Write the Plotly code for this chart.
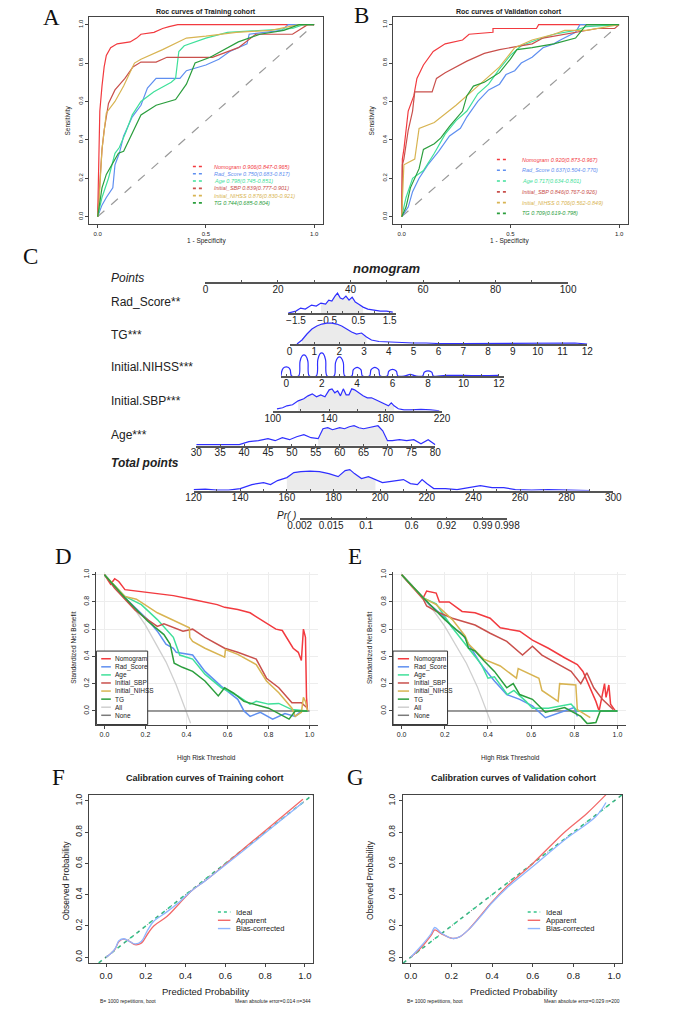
import plotly.graph_objects as go

W, H = 685, 1013
SANS = "Liberation Sans, Arial, sans-serif"
SERIF = "Liberation Serif, Times New Roman, serif"
INK = "#222222"

MODELS = ["Nomogram", "Rad_Score", "Age", "Initial_SBP", "Initial_NIHSS", "TG"]
MODEL_COLORS = ["#f23a3f", "#5f8ff0", "#3fe09a", "#c9504c", "#d8b452", "#2b9e3d"]

# ---------------- ROC, training cohort (A)
TRAIN_AUC = [0.906, 0.750, 0.798, 0.839, 0.876, 0.744]
TRAIN_LO = [0.847, 0.683, 0.745, 0.777, 0.830, 0.685]
TRAIN_HI = [0.965, 0.817, 0.851, 0.901, 0.921, 0.804]

TR_NOMO_FPR = [0, 0.005, 0.01, 0.02, 0.03, 0.04, 0.06, 0.09, 0.15, 0.18, 0.2, 0.26, 0.3, 0.33, 0.37, 1.0]
TR_NOMO_TPR = [0, 0.3, 0.55, 0.68, 0.78, 0.84, 0.88, 0.9, 0.91, 0.93, 0.95, 0.96, 0.98, 0.99, 1.0, 1.0]
TR_RAD_FPR = [0, 0.02, 0.04, 0.07, 0.08, 0.1, 0.12, 0.16, 0.2, 0.23, 0.27, 0.38, 0.41, 0.5, 0.56, 0.61, 0.69, 0.7, 0.85, 0.88, 1.0]
TR_RAD_TPR = [0, 0.06, 0.1, 0.15, 0.27, 0.33, 0.42, 0.52, 0.58, 0.67, 0.72, 0.72, 0.76, 0.79, 0.82, 0.86, 0.9, 0.95, 0.97, 1.0, 1.0]
TR_AGE_FPR = [0, 0.02, 0.05, 0.08, 0.1, 0.13, 0.16, 0.2, 0.26, 0.34, 0.36, 0.375, 0.4, 0.5, 0.6, 0.75, 0.9, 0.95, 1.0]
TR_AGE_TPR = [0, 0.1, 0.2, 0.33, 0.36, 0.44, 0.53, 0.6, 0.65, 0.7, 0.72, 0.86, 0.89, 0.93, 0.96, 0.97, 0.98, 1.0, 1.0]
TR_SBP_FPR = [0, 0.01, 0.02, 0.03, 0.05, 0.08, 0.126, 0.163, 0.2, 0.27, 0.32, 0.53, 0.6, 0.65, 0.73, 0.9, 0.97, 1.0]
TR_SBP_TPR = [0, 0.2, 0.35, 0.45, 0.59, 0.66, 0.72, 0.78, 0.805, 0.805, 0.83, 0.83, 0.86, 0.88, 0.95, 0.95, 1.0, 1.0]
TR_NIHSS_FPR = [0, 0.005, 0.02, 0.04, 0.08, 0.12, 0.17, 0.2, 0.3, 0.41, 0.5, 0.64, 0.8, 0.93, 1.0]
TR_NIHSS_TPR = [0, 0.05, 0.35, 0.54, 0.6, 0.68, 0.8, 0.82, 0.87, 0.93, 0.94, 0.96, 0.97, 1.0, 1.0]
TR_TG_FPR = [0, 0.02, 0.04, 0.07, 0.096, 0.12, 0.155, 0.2, 0.27, 0.36, 0.41, 0.45, 0.52, 0.585, 0.65, 0.75, 0.86, 0.93, 1.0]
TR_TG_TPR = [0, 0.15, 0.22, 0.28, 0.33, 0.34, 0.42, 0.53, 0.58, 0.61, 0.69, 0.8, 0.83, 0.87, 0.91, 0.95, 0.97, 1.0, 1.0]

# ---------------- ROC, validation cohort (B)
VALID_AUC = [0.920, 0.637, 0.717, 0.846, 0.706, 0.709]
VALID_LO = [0.873, 0.504, 0.634, 0.767, 0.562, 0.619]
VALID_HI = [0.967, 0.770, 0.801, 0.926, 0.849, 0.798]

VA_NOMO_FPR = [0, 0.003, 0.01, 0.02, 0.03, 0.056, 0.07, 0.1, 0.145, 0.2, 0.28, 0.31, 0.42, 0.42, 0.62, 0.63, 1.0]
VA_NOMO_TPR = [0, 0.3, 0.35, 0.45, 0.55, 0.63, 0.72, 0.79, 0.86, 0.9, 0.92, 0.95, 0.96, 0.98, 0.98, 1.0, 1.0]
VA_RAD_FPR = [0, 0.03, 0.05, 0.08, 0.12, 0.17, 0.22, 0.27, 0.3, 0.35, 0.4, 0.45, 0.48, 0.52, 0.55, 0.6, 0.65, 0.7, 0.73, 0.8, 0.82, 1.0]
VA_RAD_TPR = [0, 0.05, 0.13, 0.2, 0.27, 0.34, 0.42, 0.46, 0.52, 0.6, 0.66, 0.69, 0.74, 0.76, 0.8, 0.83, 0.88, 0.9, 0.92, 0.96, 1.0, 1.0]
VA_AGE_FPR = [0, 0.02, 0.05, 0.1, 0.15, 0.2, 0.25, 0.3, 0.35, 0.4, 0.45, 0.5, 0.55, 0.62, 0.7, 0.8, 0.85, 1.0]
VA_AGE_TPR = [0, 0.1, 0.2, 0.24, 0.33, 0.43, 0.5, 0.55, 0.64, 0.69, 0.77, 0.84, 0.89, 0.92, 0.95, 0.97, 0.99, 1.0]
VA_SBP_FPR = [0, 0.003, 0.01, 0.03, 0.05, 0.06, 0.14, 0.16, 0.2, 0.25, 0.3, 0.38, 0.45, 0.5, 0.55, 0.6, 0.65, 0.8, 0.9, 0.98, 1.0]
VA_SBP_TPR = [0, 0.27, 0.3, 0.45, 0.55, 0.65, 0.65, 0.72, 0.75, 0.78, 0.81, 0.85, 0.87, 0.88, 0.89, 0.9, 0.93, 0.96, 0.98, 0.98, 1.0]
VA_NIHSS_FPR = [0, 0.01, 0.06, 0.08, 0.15, 0.25, 0.35, 0.45, 0.52, 0.6, 0.7, 0.75, 0.85, 1.0]
VA_NIHSS_TPR = [0, 0.27, 0.3, 0.46, 0.49, 0.58, 0.68, 0.78, 0.88, 0.92, 0.95, 0.97, 0.97, 1.0]
VA_TG_FPR = [0, 0.02, 0.04, 0.08, 0.1, 0.15, 0.18, 0.22, 0.28, 0.3, 0.33, 0.38, 0.45, 0.5, 0.53, 0.6, 0.7, 0.8, 0.85, 1.0]
VA_TG_TPR = [0, 0.05, 0.15, 0.25, 0.35, 0.38, 0.41, 0.47, 0.55, 0.63, 0.68, 0.7, 0.75, 0.82, 0.87, 0.88, 0.9, 0.93, 1.0, 1.0]

# ---------------- nomogram (C): scales and densities
POINTS_TICKS = [0, 10, 20, 30, 40, 50, 60, 70, 80, 90, 100]
RAD_TICKS = [-1.5, -1, -0.5, 0, 0.5, 1, 1.5]
TG_TICKS = [0, 1, 2, 3, 4, 5, 6, 7, 8, 9, 10, 11, 12]
NIHSS_TICKS = [0, 1, 2, 3, 4, 5, 6, 7, 8, 9, 10, 11, 12]
SBP_TICKS = [100, 120, 140, 160, 180, 200, 220]
AGE_TICKS = [30, 35, 40, 45, 50, 55, 60, 65, 70, 75, 80]
TOTAL_TICKS = [120, 130, 140, 150, 160, 170, 180, 190, 200, 210, 220, 230, 240, 250, 260, 270, 280, 290, 300]
PR_LABELS = ["0.002", "0.015", "0.1", "0.6", "0.92", "0.99", "0.998"]
PR_POINTS = [165.5, 179, 194, 213.5, 228.5, 244, 254.5]

RAD_X = [-1.75, -1.5, -1.35, -1.2, -1.0, -0.85, -0.7, -0.55, -0.45, -0.35, -0.25, -0.17, -0.08, 0.0, 0.1, 0.2, 0.3, 0.4, 0.5, 0.65, 0.8, 1.0, 1.2, 1.4, 1.6]
RAD_D = [0, 2, 5, 4, 8, 7, 10, 9, 13, 12, 17, 20, 15, 14, 17, 13, 16, 11, 9, 6, 4, 3, 2, 2, 1]
TG_X = [0.3, 0.5, 0.7, 0.9, 1.1, 1.3, 1.5, 1.7, 1.9, 2.1, 2.3, 2.5, 2.7, 2.9, 3.1, 3.3, 3.6, 4.0, 4.5, 5.0, 5.5, 6.0, 7.0, 8.0, 9.0, 10.0, 11.0, 11.5, 12.0]
TG_D = [0, 4, 10, 15, 18, 20, 21, 21, 20, 18, 15, 12, 10, 11, 7, 4, 2.5, 2, 1.5, 1, 1, 0.5, 0.5, 0.5, 0.3, 0.5, 0.3, 1, 0]
NIHSS_X = [-0.3, -0.22, -0.1, 0, 0.1, 0.22, 0.3,
           0.7, 0.78, 0.9, 1, 1.1, 1.22, 1.3,
           1.7, 1.78, 1.9, 2, 2.1, 2.22, 2.3,
           2.7, 2.78, 2.9, 3, 3.1, 3.22, 3.3,
           3.7, 3.78, 3.9, 4, 4.1, 4.22, 4.3,
           4.7, 4.78, 4.9, 5, 5.1, 5.22, 5.3,
           5.7, 5.78, 5.9, 6, 6.1, 6.22, 6.3,
           6.7, 7, 7.3,
           7.7, 7.78, 7.9, 8, 8.1, 8.22, 8.3,
           9, 10, 11, 12]
NIHSS_D = [0, 6.3, 8.6, 9, 8.6, 6.3, 0,
           0, 14.7, 20, 21, 20, 14.7, 0,
           0, 16, 22, 23, 22, 16, 0,
           0, 13.3, 18, 19, 18, 13.3, 0,
           0, 6, 8, 8.5, 8, 6, 0,
           0, 6, 8, 8.5, 8, 6, 0,
           0, 4.5, 6.2, 6.5, 6.2, 4.5, 0,
           0, 1.5, 0,
           0, 3.5, 4.8, 5, 4.8, 3.5, 0,
           0.5, 0.5, 0.3, 0.5]
SBP_X = [103, 107, 110, 114, 118, 122, 125, 128, 131, 134, 137, 140, 142, 144, 146, 148, 150, 152, 154,
         156, 158, 161, 164, 167, 170, 173, 176, 179, 182, 184, 186, 189, 193, 198, 205, 212, 218]
SBP_D = [2, 3, 5, 6, 10, 12, 15, 17, 14, 16, 14, 21, 22, 18, 20, 15, 22, 16, 16,
         22, 21, 18, 15, 13, 13, 11, 9, 7, 5, 8, 5, 2, 1, 1, 1.5, 1, 0]
AGE_X = [30, 33, 36, 39, 41, 43, 45, 46.5, 48, 49.5, 51, 52.5, 54, 55.5, 56.5, 57.5, 58.5, 60, 61,
         62, 63, 64, 65, 66, 67, 68, 69, 70, 71, 72.5, 74, 75.5, 77, 78.5, 80]
AGE_D = [1, 1, 0.5, 1, 4, 5, 7, 5, 8, 6, 9, 11, 8, 7, 17, 18, 16, 18, 17,
         19, 20, 18, 17, 18, 19, 20, 15, 5, 5, 6, 5, 6, 2, 6, 1]
TOTAL_X = [120, 125, 130, 135, 140, 145, 150, 153, 156, 160, 163, 166, 170, 174, 178, 182, 185, 187, 189, 192, 195,
           198, 201, 204, 207, 210, 213, 216, 218, 220, 223, 228, 233, 238, 243, 248, 253, 258, 265, 272, 280, 290]
TOTAL_D = [1, 1.5, 0.5, 0.5, 2, 6, 8, 6, 10, 13, 18, 19, 19.5, 19, 17, 14, 20, 21, 17, 12, 14,
           11, 8, 9, 10, 11, 7, 6, 11, 7, 2, 2, 1, 3, 5, 3, 3, 1, 0.5, 1, 0.5, 0]

# ---------------- decision curves (D training, E validation)
D_ALL_X = [0, 0.05, 0.1, 0.15, 0.2, 0.25, 0.3, 0.35, 0.4, 0.42]
D_ALL_Y = [1, 0.92, 0.83, 0.74, 0.63, 0.5, 0.36, 0.19, 0.0, -0.09]
D_NONE_X = [0, 1]
D_NONE_Y = [0, 0]
D_NOMO_X = [0, 0.03, 0.05, 0.07, 0.1, 0.15, 0.195, 0.25, 0.336, 0.43, 0.49, 0.55, 0.586, 0.65, 0.71,
            0.77, 0.836, 0.867, 0.9, 0.92, 0.945, 0.96, 0.97, 0.98, 0.985, 0.99]
D_NOMO_Y = [1.0, 0.93, 0.97, 0.95, 0.89, 0.88, 0.87, 0.86, 0.846, 0.817, 0.8, 0.78, 0.76, 0.744, 0.72,
            0.66, 0.6, 0.59, 0.51, 0.46, 0.43, 0.37, 0.6, 0.54, 0.1, 0.0]
D_RAD_X = [0, 0.1, 0.21, 0.258, 0.3, 0.336, 0.35, 0.43, 0.49, 0.57, 0.65, 0.68, 0.71, 0.76, 0.82, 0.88, 0.93, 0.96]
D_RAD_Y = [1.0, 0.83, 0.67, 0.585, 0.49, 0.46, 0.43, 0.41, 0.29, 0.18, 0.085, 0.0, -0.04, -0.01, -0.06, -0.02, -0.04, 0.0]
D_AGE_X = [0, 0.1, 0.18, 0.258, 0.336, 0.367, 0.43, 0.49, 0.57, 0.65, 0.71, 0.74, 0.8, 0.85, 0.914, 0.99]
D_AGE_Y = [1.0, 0.84, 0.78, 0.67, 0.54, 0.41, 0.38, 0.27, 0.17, 0.11, 0.05, 0.07, 0.05, 0.055, 0.01, 0.0]
D_SBP_X = [0, 0.05, 0.1, 0.15, 0.21, 0.258, 0.29, 0.383, 0.43, 0.49, 0.586, 0.65, 0.74, 0.79, 0.85, 0.914, 0.96, 0.99]
D_SBP_Y = [1.0, 0.9, 0.82, 0.74, 0.67, 0.62, 0.64, 0.585, 0.6, 0.54, 0.46, 0.43, 0.38, 0.24, 0.17, 0.06, 0.06, 0.02]
D_NIHSS_X = [0, 0.1, 0.156, 0.258, 0.414, 0.416, 0.43, 0.49, 0.586, 0.59, 0.65, 0.74, 0.79, 0.85, 0.914,
             0.93, 0.96, 0.97, 0.98, 0.99]
D_NIHSS_Y = [1.0, 0.84, 0.82, 0.72, 0.61, 0.54, 0.51, 0.46, 0.395, 0.45, 0.415, 0.34, 0.22, 0.134, 0.02,
             -0.04, -0.01, 0.1, 0.07, 0.0]
D_TG_X = [0, 0.1, 0.21, 0.29, 0.32, 0.34, 0.38, 0.43, 0.49, 0.52, 0.555, 0.586, 0.63, 0.68, 0.8, 0.9, 0.93, 0.99]
D_TG_Y = [1.0, 0.83, 0.66, 0.56, 0.49, 0.35, 0.32, 0.29, 0.22, 0.17, 0.11, 0.17, 0.13, 0.07, 0.02, -0.06, 0.0, 0.0]

E_ALL_X = [0, 0.05, 0.1, 0.15, 0.2, 0.25, 0.3, 0.35, 0.4, 0.415]
E_ALL_Y = [1, 0.92, 0.83, 0.73, 0.62, 0.49, 0.35, 0.18, -0.03, -0.09]
E_NONE_X = [0, 1]
E_NONE_Y = [0, 0]
E_NOMO_X = [0, 0.05, 0.1, 0.116, 0.16, 0.175, 0.22, 0.28, 0.34, 0.41, 0.457, 0.547, 0.606, 0.68, 0.755,
            0.814, 0.84, 0.874, 0.9, 0.915, 0.94, 0.947, 0.96, 0.968, 0.99]
E_NOMO_Y = [1.0, 0.91, 0.83, 0.88, 0.865, 0.8, 0.8, 0.73, 0.72, 0.68, 0.61, 0.585, 0.52, 0.46, 0.39,
            0.34, 0.29, 0.17, 0.07, 0.0, 0.2, 0.1, 0.19, 0.05, 0.0]
E_RAD_X = [0, 0.13, 0.19, 0.235, 0.28, 0.324, 0.368, 0.43, 0.487, 0.547, 0.606, 0.666, 0.755, 0.8, 0.814]
E_RAD_Y = [1.0, 0.78, 0.7, 0.61, 0.57, 0.46, 0.34, 0.22, 0.12, 0.085, 0.037, -0.05, 0.0, 0.025, -0.04]
E_AGE_X = [0, 0.1, 0.16, 0.235, 0.31, 0.37, 0.4, 0.43, 0.49, 0.52, 0.576, 0.606, 0.68, 0.755, 0.785, 0.814, 1.0]
E_AGE_Y = [1.0, 0.83, 0.785, 0.61, 0.46, 0.34, 0.24, 0.25, 0.12, 0.15, 0.07, 0.02, 0.02, 0.04, 0.05, 0.0, 0.0]
E_SBP_X = [0, 0.1, 0.116, 0.16, 0.235, 0.34, 0.41, 0.487, 0.56, 0.606, 0.65, 0.725, 0.785, 0.83, 0.858, 0.89, 0.93, 0.98]
E_SBP_Y = [1.0, 0.82, 0.77, 0.73, 0.68, 0.63, 0.57, 0.51, 0.41, 0.475, 0.41, 0.34, 0.29, 0.2, 0.28, 0.17, 0.085, 0.01]
E_NIHSS_X = [0, 0.1, 0.16, 0.235, 0.294, 0.31, 0.38, 0.457, 0.532, 0.54, 0.636, 0.65, 0.725, 0.732, 0.807, 0.814, 0.874]
E_NIHSS_Y = [1.0, 0.83, 0.78, 0.67, 0.55, 0.49, 0.38, 0.33, 0.24, 0.31, 0.24, 0.15, 0.07, 0.2, 0.19, 0.01, -0.05]
E_TG_X = [0, 0.1, 0.2, 0.294, 0.31, 0.34, 0.38, 0.43, 0.487, 0.517, 0.547, 0.606, 0.666, 0.755, 0.83, 0.86, 0.9, 0.92, 1.0]
E_TG_Y = [1.0, 0.83, 0.67, 0.54, 0.46, 0.44, 0.37, 0.29, 0.17, 0.2, 0.12, 0.085, -0.01, 0.025, -0.04, -0.093, -0.085, 0.0, 0.0]

# ---------------- calibration (F training, G validation)
IDEAL_X = [-0.1, 1.1]
IDEAL_Y = [-0.1, 1.1]
F_APP_X = [0, 0.03, 0.048, 0.065, 0.09, 0.12, 0.145, 0.177, 0.21, 0.24, 0.306, 0.37, 0.435, 0.5, 0.66, 0.82, 0.99]
F_APP_Y = [0, 0.03, 0.057, 0.1, 0.115, 0.1, 0.08, 0.09, 0.15, 0.2, 0.26, 0.345, 0.43, 0.49, 0.66, 0.83, 1.01]
F_BC_X = [0, 0.03, 0.048, 0.065, 0.09, 0.12, 0.145, 0.177, 0.21, 0.24, 0.306, 0.37, 0.435, 0.5, 0.66, 0.82, 0.99]
F_BC_Y = [0, 0.03, 0.06, 0.105, 0.118, 0.1, 0.085, 0.1, 0.175, 0.23, 0.29, 0.355, 0.43, 0.49, 0.65, 0.815, 0.99]
G_APP_X = [0, 0.05, 0.1, 0.118, 0.15, 0.205, 0.24, 0.283, 0.346, 0.394, 0.47, 0.6, 0.756, 0.866, 0.96]
G_APP_Y = [0, 0.06, 0.14, 0.175, 0.15, 0.12, 0.13, 0.175, 0.27, 0.345, 0.45, 0.6, 0.8, 0.92, 1.04]
G_BC_X = [0, 0.05, 0.1, 0.118, 0.15, 0.205, 0.24, 0.283, 0.346, 0.394, 0.47, 0.6, 0.756, 0.91, 0.96]
G_BC_Y = [0, 0.07, 0.15, 0.19, 0.155, 0.12, 0.13, 0.175, 0.265, 0.34, 0.44, 0.58, 0.75, 0.9, 0.99]


fig = go.Figure()
annotations = []
shapes = []
n_axes = [0]


def fx(px):
    return px / W


def fy(py):
    return 1 - py / H


def text(x, y, s, size, color=INK, anchor="center", angle=0, family=SANS, valign="middle"):
    annotations.append(dict(
        x=fx(x), y=fy(y), xref="paper", yref="paper", text=s, showarrow=False,
        font=dict(size=size, color=color, family=family),
        xanchor=anchor, yanchor=valign, textangle=angle,
    ))


def seg(x0, y0, x1, y1, color, width=1.2, dash="solid"):
    shapes.append(dict(type="line", xref="paper", yref="paper",
                       x0=fx(x0), y0=fy(y0), x1=fx(x1), y1=fy(y1),
                       line=dict(color=color, width=width, dash=dash), layer="above"))


def panel(xpx, ypx, xrange, yrange, xaxis=None, yaxis=None):
    """New x/y axis pair placed by pixel box (left, right), (top, bottom)."""
    n_axes[0] += 1
    s = "" if n_axes[0] == 1 else str(n_axes[0])
    base = dict(showgrid=False, zeroline=False, ticks="outside", ticklen=3,
                tickcolor="#444", linecolor="#444", tickfont=dict(size=7, family=SANS, color=INK))
    xa = dict(base, domain=[fx(xpx[0]), fx(xpx[1])], range=xrange, anchor="y" + s)
    ya = dict(base, domain=[fy(ypx[1]), fy(ypx[0])], range=yrange, anchor="x" + s)
    xa.update(xaxis or {})
    ya.update(yaxis or {})
    fig.update_layout({"xaxis" + s: xa, "yaxis" + s: ya})
    fig.add_trace(go.Scatter(x=[], y=[], xaxis="x" + s, yaxis="y" + s,
                             showlegend=False, hoverinfo="skip"))
    return "x" + s, "y" + s


def curve(ax, x, y, color, width=1.2, dash="solid", shape="linear"):
    fig.add_trace(go.Scatter(
        x=x, y=y, mode="lines", xaxis=ax[0], yaxis=ax[1], showlegend=False, hoverinfo="skip",
        line=dict(color=color, width=width, dash=dash, shape=shape),
    ))


def fmt(v):
    return f"{v:.1f}"


# ======================= A / B : ROC curves
ROC_TICK_X = [0, 0.5, 1.0]
ROC_TICK_Y = [0, 0.2, 0.4, 0.6, 0.8, 1.0]


def roc_panel(xpx, title, cx, ylab_x, curves, aucs, los, his, leg_dash, leg_text, leg_y0, leg_step):
    ax = panel(xpx, (14, 222), [-0.04, 1.04], [-0.04, 1.04],
               xaxis=dict(showline=True, mirror=True, tickvals=ROC_TICK_X,
                          ticktext=[fmt(v) for v in ROC_TICK_X], tickfont=dict(size=6, family=SANS)),
               yaxis=dict(showline=True, mirror=True, tickvals=ROC_TICK_Y, tickangle=-90,
                          ticktext=[fmt(v) for v in ROC_TICK_Y], tickfont=dict(size=6, family=SANS)))
    curve(ax, [0, 1], [0, 1], "#9a9a9a", width=1.2, dash="dash")
    for (fpr, tpr), col in zip(curves, MODEL_COLORS):
        curve(ax, fpr, tpr, col, width=1.2)
    text(cx, 9, f"<b>{title}</b>", 7)
    text(cx, 239, "1 - Specificity", 6.5)
    text(ylab_x, 118, "Sensitivity", 6.5, angle=-90)
    for i, (name, col) in enumerate(zip(MODELS, MODEL_COLORS)):
        yy = leg_y0 + i * leg_step
        seg(leg_dash[0], yy, leg_dash[1], yy, col, width=1.6, dash="3px,3px")
        label = f"<i>{name} {aucs[i]:.3f}({los[i]:.3f}-{his[i]:.3f})</i>"
        text(leg_text, yy, label, 5.5, color=col, anchor="left")


roc_panel((79, 322), "Roc curves of Training cohort", 201, 57,
          [(TR_NOMO_FPR, TR_NOMO_TPR), (TR_RAD_FPR, TR_RAD_TPR), (TR_AGE_FPR, TR_AGE_TPR),
           (TR_SBP_FPR, TR_SBP_TPR), (TR_NIHSS_FPR, TR_NIHSS_TPR), (TR_TG_FPR, TR_TG_TPR)],
          TRAIN_AUC, TRAIN_LO, TRAIN_HI, (187, 199), 207, 164, 7.3)
roc_panel((395, 639), "Roc curves of Validation cohort", 516, 373,
          [(VA_NOMO_FPR, VA_NOMO_TPR), (VA_RAD_FPR, VA_RAD_TPR), (VA_AGE_FPR, VA_AGE_TPR),
           (VA_SBP_FPR, VA_SBP_TPR), (VA_NIHSS_FPR, VA_NIHSS_TPR), (VA_TG_FPR, VA_TG_TPR)],
          VALID_AUC, VALID_LO, VALID_HI, (503, 514), 527, 157, 10.8)

# ======================= C : nomogram
BLUE = "#2f2fff"
SHADE = "#ebebeb"
ROW_H = 25
NOMO_AXIS = dict(showline=True, linecolor="#555", linewidth=1.5, ticks="inside", ticklen=2,
                 tickcolor="#555", tickangle=0, ticklabelstandoff=-3,
                 tickfont=dict(size=10, family=SANS, color=INK))


def nomo_row(label, label_y, axis_y, xrange, xpx, ticks, labels, dens=None, shade=None,
             spline=False, label_style=None):
    ax = panel(xpx, (axis_y - ROW_H, axis_y), xrange, [0, ROW_H],
               xaxis=dict(NOMO_AXIS, tickvals=ticks, ticktext=labels),
               yaxis=dict(visible=False))
    if dens is not None:
        dx, dy = dens
        shape = "spline" if spline else "linear"
        if shade is not None:
            sx = [x for x in dx if shade[0] <= x <= shade[1]]
            sy = [y for x, y in zip(dx, dy) if shade[0] <= x <= shade[1]]
            fig.add_trace(go.Scatter(x=sx, y=sy, mode="lines", fill="tozeroy", fillcolor=SHADE,
                                     line=dict(width=0, color=SHADE, shape=shape),
                                     xaxis=ax[0], yaxis=ax[1], showlegend=False, hoverinfo="skip"))
        curve(ax, dx, dy, BLUE, width=1.2, shape=shape)
    text(100, label_y, label_style or label, 12, anchor="left")
    return ax


def every(ticks, step):
    return [("%g" % t).replace("-", "\u2212") if i % step == 0 else "" for i, t in enumerate(ticks)]


text(18, 254, "C", 23, color="#111", family=SERIF)
text(389, 266, "<b><i>nomogram</i></b>", 13)
nomo_row("Points", 276, 280, [0, 100], (200, 577), POINTS_TICKS, every(POINTS_TICKS, 2),
         label_style="<i>Points</i>")
nomo_row("Rad_Score**", 300, 311, [-1.75, 1.7], (286, 398), RAD_TICKS, every(RAD_TICKS, 2),
         dens=(RAD_X, RAD_D), shade=(-0.8, 0.7))
nomo_row("TG***", 333, 342, [0, 12], (287.5, 597), TG_TICKS, every(TG_TICKS, 1),
         dens=(TG_X, TG_D), shade=(0.45, 3.1))
nomo_row("Initial.NIHSS***", 365, 374, [-0.3, 12.3], (278.5, 510.6), NIHSS_TICKS, every(NIHSS_TICKS, 2),
         dens=(NIHSS_X, NIHSS_D), spline=True)
nomo_row("Initial.SBP***", 399, 409, [100, 220], (270, 446), SBP_TICKS, every(SBP_TICKS, 2),
         dens=(SBP_X, SBP_D), shade=(115, 187))
nomo_row("Age***", 433, 444, [30, 80], (190.5, 439), AGE_TICKS, every(AGE_TICKS, 1),
         dens=(AGE_X, AGE_D), shade=(55.4, 70))
nomo_row("Total points", 461, 489, [120, 300], (187.7, 624), TOTAL_TICKS, every(TOTAL_TICKS, 2),
         dens=(TOTAL_X, TOTAL_D), shade=(158, 200), label_style="<b><i>Total points</i></b>")


def total_px(t):
    return 187.7 + (t - 120) * (624 - 187.7) / 180


panel((total_px(PR_POINTS[0]), total_px(PR_POINTS[-1])), (516, 517), [PR_POINTS[0], PR_POINTS[-1]], [0, 1],
      xaxis=dict(NOMO_AXIS, tickvals=PR_POINTS, ticktext=PR_LABELS),
      yaxis=dict(visible=False))
text(296, 514, "<i>Pr( )</i>", 10, anchor="right")

# ======================= D / E : decision curves
DCA_TICKS = [0, 0.2, 0.4, 0.6, 0.8, 1.0]
DCA_NAMES = MODELS + ["All", "None"]
DCA_COLORS = MODEL_COLORS + ["#cfcfcf", "#7a7a7a"]


def dca_panel(xpx, letter, letter_x, cx, ylab_x, series, box, line_x, text_x):
    ax = panel(xpx, (570.6, 723.7), [-0.04, 1.04], [-0.1, 1.02],
               xaxis=dict(showline=True, showgrid=True, gridcolor="#ededed", tickvals=DCA_TICKS,
                          ticktext=[fmt(v) for v in DCA_TICKS], tickfont=dict(size=7, family=SANS)),
               yaxis=dict(showline=True, showgrid=True, gridcolor="#ededed", tickvals=DCA_TICKS,
                          ticktext=[fmt(v) for v in DCA_TICKS], tickangle=-90,
                          tickfont=dict(size=7, family=SANS)))
    (all_x, all_y), (none_x, none_y) = series[-2], series[-1]
    curve(ax, all_x, all_y, DCA_COLORS[6], width=1.3)
    curve(ax, none_x, none_y, DCA_COLORS[7], width=1.6)
    for (x, y), col in zip(series[:6], MODEL_COLORS):
        curve(ax, x, y, col, width=1.5)
    text(letter_x, 555, letter, 23, color="#111", family=SERIF)
    text(cx, 757, "High Risk Threshold", 6.5)
    text(ylab_x, 647, "Standardized Net Benefit", 6.5, angle=-90)
    shapes.append(dict(type="rect", xref="paper", yref="paper", x0=fx(box[0]), x1=fx(box[1]),
                       y0=fy(723.7), y1=fy(650), fillcolor="white", line=dict(color="#333", width=1),
                       layer="above"))
    for i, (name, col) in enumerate(zip(DCA_NAMES, DCA_COLORS)):
        yy = 657.7 + i * 8.1
        seg(line_x[0], yy, line_x[1], yy, col, width=1.5)
        text(text_x, yy, name, 6.5, anchor="left")


dca_panel((86.5, 316.8), "D", 52, 201, 62,
          [(D_NOMO_X, D_NOMO_Y), (D_RAD_X, D_RAD_Y), (D_AGE_X, D_AGE_Y), (D_SBP_X, D_SBP_Y),
           (D_NIHSS_X, D_NIHSS_Y), (D_TG_X, D_TG_Y), (D_ALL_X, D_ALL_Y), (D_NONE_X, D_NONE_Y)],
          (86.7, 140), (91.7, 101.7), 104)
dca_panel((395, 637.3), "E", 355, 517, 370,
          [(E_NOMO_X, E_NOMO_Y), (E_RAD_X, E_RAD_Y), (E_AGE_X, E_AGE_Y), (E_SBP_X, E_SBP_Y),
           (E_NIHSS_X, E_NIHSS_Y), (E_TG_X, E_TG_Y), (E_ALL_X, E_ALL_Y), (E_NONE_X, E_NONE_Y)],
          (395, 451.7), (400, 411.7), 415)

# ======================= F / G : calibration
CAL_TICKS = [0, 0.2, 0.4, 0.6, 0.8, 1.0]
CAL_LEGEND = ["Ideal", "Apparent", "Bias-corrected"]
CAL_COLORS = ["#36c48a", "#f26a6a", "#8fb6ff"]


def cal_panel(xpx, xrange, letter, letter_x, title, cx, ylab_x, app, bc, leg_x, mae, left_note_x):
    ax = panel(xpx, (794, 963.3), xrange, [-0.04, 1.04],
               xaxis=dict(showline=True, mirror=True, tickvals=CAL_TICKS,
                          ticktext=[fmt(v) for v in CAL_TICKS], tickfont=dict(size=9.5, family=SANS)),
               yaxis=dict(showline=True, mirror=True, tickvals=CAL_TICKS, tickangle=-90,
                          ticktext=[fmt(v) for v in CAL_TICKS], tickfont=dict(size=8.5, family=SANS)))
    curve(ax, IDEAL_X, IDEAL_Y, CAL_COLORS[0], width=1.6, dash="4px,4px")
    curve(ax, IDEAL_X, IDEAL_Y, "#666666", width=1.0, dash="1px,5px")
    curve(ax, app[0], app[1], CAL_COLORS[1], width=1.3, shape="spline")
    curve(ax, bc[0], bc[1], CAL_COLORS[2], width=1.3, shape="spline")
    text(letter_x, 777, letter, 23, color="#111", family=SERIF)
    text(cx, 777, f"<b>{title}</b>", 9)
    text(cx, 991, "Predicted Probability", 9.5)
    text(ylab_x, 880, "Observed Probability", 8.5, angle=-90)
    for i, (name, col) in enumerate(zip(CAL_LEGEND, CAL_COLORS)):
        yy = 911.7 + i * 8.3
        seg(leg_x, yy, leg_x + 13, yy, col, width=1.4, dash="3px,3px" if i == 0 else "solid")
        text(leg_x + 17, yy, name, 7.5, anchor="left")
    text(left_note_x, 1001, "B= 1000 repetitions, boot", 5, anchor="left")
    text(xpx[1], 1001, mae, 5, anchor="right")


cal_panel((79.3, 311.7), [-0.084, 1.04], "F", 47, "Calibration curves of Training cohort", 200, 55,
          (F_APP_X, F_APP_Y), (F_BC_X, F_BC_Y), 213, "Mean absolute error=0.014 n=344", 88)
cal_panel((405, 633.3), [-0.04, 1.04], "G", 356, "Calibration curves of Validation cohort", 520, 371.7,
          (G_APP_X, G_APP_Y), (G_BC_X, G_BC_Y), 535, "Mean absolute error=0.029 n=200", 407)

text(40, 15, "A", 23, color="#111", family=SERIF)
text(362, 13, "B", 23, color="#111", family=SERIF)

fig.update_layout(
    width=W, height=H,
    margin=dict(l=0, r=0, t=0, b=0),
    paper_bgcolor="white", plot_bgcolor="white",
    showlegend=False,
    annotations=annotations,
    shapes=shapes,
    font=dict(family=SANS, color=INK),
)
# the page body has a default 8px margin; drop it so the figure sits at the window origin
fig.write_html("out.html", config={"displayModeBar": False},
               post_script="document.body.style.margin='0';")
